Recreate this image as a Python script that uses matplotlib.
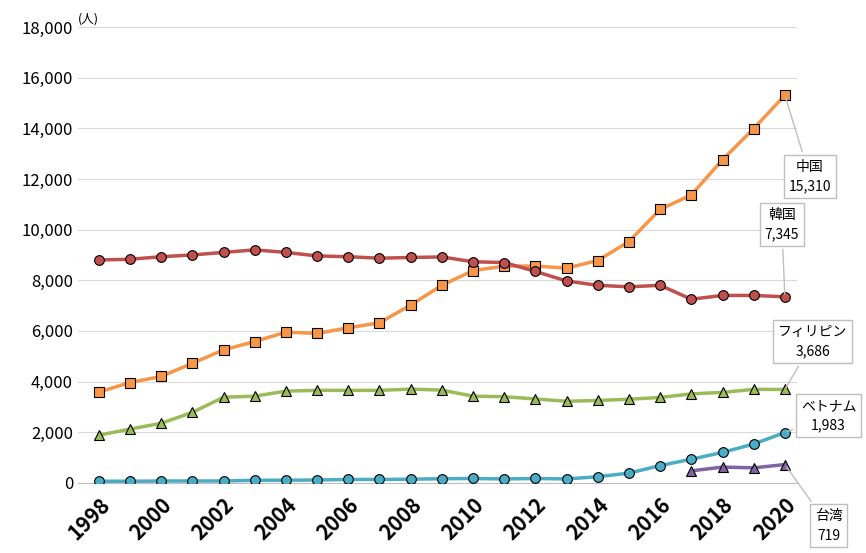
import matplotlib.pyplot as plt

plt.rcParams['font.family'] = ['Noto Sans CJK JP', 'DejaVu Sans']

years = list(range(1998, 2021))
china = [3580, 3960, 4200, 4720, 5250, 5580, 5950, 5900, 6120, 6320, 7020, 7800, 8380,
         8560, 8560, 8480, 8780, 9530, 10800, 11370, 12760, 13990, 15310]
korea = [8800, 8830, 8930, 9000, 9100, 9200, 9100, 8960, 8930, 8870, 8900, 8920, 8730,
         8700, 8350, 7970, 7800, 7740, 7800, 7250, 7400, 7400, 7345]
phil = [1880, 2120, 2350, 2780, 3380, 3420, 3620, 3650, 3650, 3650, 3700, 3660, 3420,
        3400, 3310, 3220, 3250, 3300, 3370, 3510, 3570, 3690, 3686]
viet = [60, 60, 70, 70, 70, 100, 100, 110, 130, 130, 140, 160, 170,
        150, 170, 150, 240, 380, 680, 930, 1200, 1530, 1983]
taiwan_years = [2017, 2018, 2019, 2020]
taiwan = [470, 620, 590, 719]

fig, ax = plt.subplots(figsize=(8.66, 5.53), dpi=100)
fig.subplots_adjust(left=0.09, right=0.92, top=0.951, bottom=0.127)

ms = 7
ax.plot(years, china, color='#F79646', lw=2.5, marker='s', ms=ms, mfc='#F79646', mec='black', mew=0.8, zorder=3)
ax.plot(years, korea, color='#C0504D', lw=2.5, marker='o', ms=ms, mfc='#C0504D', mec='black', mew=0.8, zorder=3)
ax.plot(years, phil, color='#9BBB59', lw=2.5, marker='^', ms=ms, mfc='#9BBB59', mec='black', mew=0.8, zorder=3)
ax.plot(years, viet, color='#4BACC6', lw=2.5, marker='o', ms=ms, mfc='#4BACC6', mec='black', mew=0.8, zorder=3)
ax.plot(taiwan_years, taiwan, color='#8064A2', lw=2.5, marker='^', ms=ms, mfc='#8064A2', mec='black', mew=0.8, zorder=3)

ax.set_xlim(1997.33, 2020.38)
ax.set_ylim(0, 18000)
ax.set_yticks(range(0, 18001, 2000))
ax.set_yticklabels([f'{v:,}' for v in range(0, 18001, 2000)], fontsize=12)
ax.set_xticks(range(1998, 2021, 2))
ax.set_xticklabels([str(y) for y in range(1998, 2021, 2)], rotation=45, ha='right',
                   rotation_mode='anchor', fontsize=15, fontweight='bold')
ax.grid(axis='y', color='#d9d9d9', lw=0.8)
ax.set_axisbelow(True)
for s in ['top', 'right', 'left']:
    ax.spines[s].set_visible(False)
ax.spines['bottom'].set_color('#bfbfbf')
ax.tick_params(length=0)
ax.tick_params(axis='x', pad=8)
ax.text(1997.33, 18300, '(人)', fontsize=9, va='center', ha='left')

box = dict(boxstyle='square,pad=0.35', fc='white', ec='#bfbfbf')
arrow = dict(arrowstyle='-', color='#bfbfbf', lw=1)
labels = [('中国\n15,310', 15310, 2020.8, 12100),
          ('韓国\n7,345', 7345, 2019.9, 10200),
          ('フィリピン\n3,686', 3686, 2020.9, 5570),
          ('ベトナム\n1,983', 1983, 2021.4, 2650),
          ('台湾\n719', 719, 2021.4, -1700)]
for txt, v, tx, ty in labels:
    ax.annotate(txt, xy=(2020, v), xytext=(tx, ty), fontsize=10, ha='center', va='center',
                bbox=box, arrowprops=arrow, annotation_clip=False, linespacing=1.5)

plt.savefig('out.png')
